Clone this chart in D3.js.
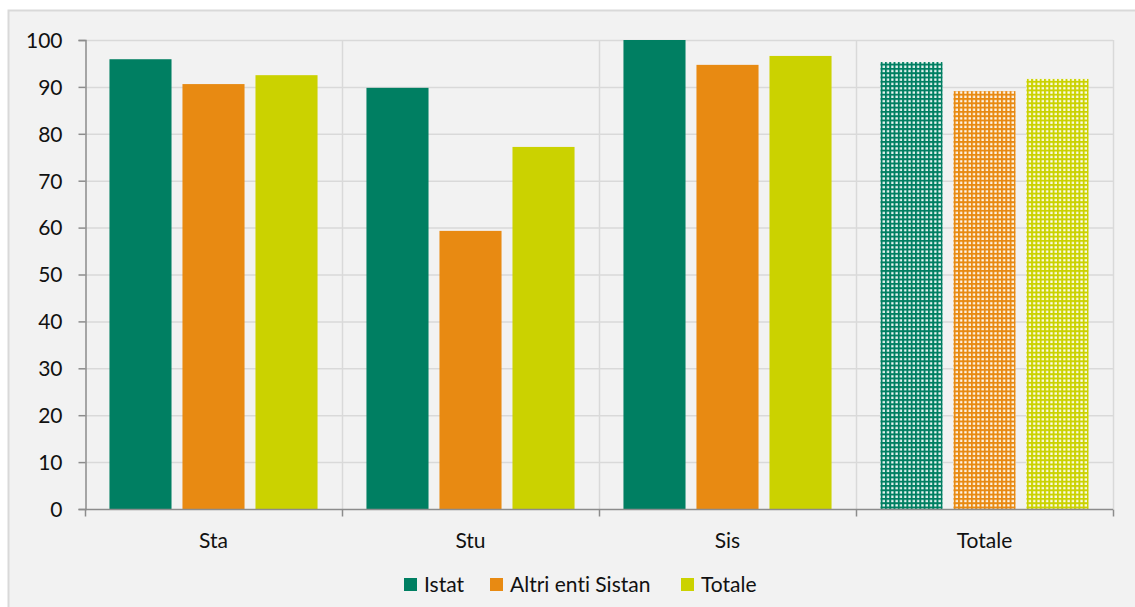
<!DOCTYPE html>
<html>
<head>
<meta charset="utf-8">
<script src="https://cdn.jsdelivr.net/npm/d3@7"></script>
<style>
  html, body { margin: 0; padding: 0; background: #ffffff; }
  svg { display: block; }
  text { font-family: Lato, "Open Sans", sans-serif; fill: #111111; font-variant-ligatures: none; font-feature-settings: "liga" 0; }
</style>
</head>
<body>
<svg id="chart" width="1135" height="607"></svg>
<script>
// Categories and series
const categories = ["Sta", "Stu", "Sis", "Totale"];
const seriesNames = ["Istat", "Altri enti Sistan", "Totale"];
const istat = [95.9, 89.8, 100.0, 95.3];
const altriEnti = [90.6, 59.3, 94.7, 89.1];
const totale = [92.5, 77.2, 96.6, 91.7];
const yTicks = [0, 10, 20, 30, 40, 50, 60, 70, 80, 90, 100];

const colors = ["#007f62", "#e88a12", "#cbd200"];
const seriesValues = [istat, altriEnti, totale];

const svg = d3.select("#chart");
const W = 1135, H = 607;
const FS = "21px";

// Outer panel
svg.append("rect")
  .attr("x", 8.5).attr("y", 10.5)
  .attr("width", W).attr("height", H)
  .attr("fill", "#f2f2f2")
  .attr("stroke", "#d9d9d9").attr("stroke-width", 2);

const plot = { left: 85, right: 1113, top: 40, bottom: 509 };

const x = d3.scaleBand().domain(categories).range([plot.left, plot.right]);
const xInner = d3.scaleBand().domain(d3.range(3))
  .range([0, x.bandwidth()]).paddingInner(0.15).paddingOuter(0.335);
const y = d3.scaleLinear().domain([0, 100]).range([plot.bottom, plot.top]);

// Grid-patterned fills for the overall group
const defs = svg.append("defs");
colors.forEach((c, i) => {
  const p = defs.append("pattern")
    .attr("id", "grid" + i)
    .attr("patternUnits", "userSpaceOnUse")
    .attr("width", 4.3).attr("height", 4.3);
  p.append("rect").attr("width", 4.3).attr("height", 4.3).attr("fill", c);
  p.append("rect").attr("x", 1.1).attr("y", 1.1).attr("width", 2.3).attr("height", 2.3)
    .attr("fill", "#ffffff").attr("opacity", 0.95);
});

// Horizontal gridlines
svg.append("g").selectAll("line").data(yTicks.filter(d => d > 0)).join("line")
  .attr("x1", plot.left).attr("x2", plot.right)
  .attr("y1", d => y(d) + 0.5).attr("y2", d => y(d) + 0.5)
  .attr("stroke", "#d9d9d9").attr("stroke-width", 1.5);

// Vertical separators between categories
const bounds = categories.map(c => x(c) + x.bandwidth());
svg.append("g").selectAll("line").data(bounds).join("line")
  .attr("x1", d => d + 0.5).attr("x2", d => d + 0.5)
  .attr("y1", plot.top).attr("y2", plot.bottom)
  .attr("stroke", "#d9d9d9").attr("stroke-width", 1.5);

// Bars
categories.forEach((cat, ci) => {
  seriesValues.forEach((vals, si) => {
    svg.append("rect")
      .attr("x", x(cat) + xInner(si))
      .attr("y", y(vals[ci]))
      .attr("width", xInner.bandwidth())
      .attr("height", y(0) - y(vals[ci]))
      .attr("fill", cat === "Totale" ? `url(#grid${si})` : colors[si]);
  });
});

// Y axis
const yAxis = svg.append("g")
  .attr("transform", `translate(${plot.left + 0.5},0)`)
  .call(d3.axisLeft(y).tickValues(yTicks).tickSize(7).tickPadding(16));
yAxis.select(".domain").attr("stroke", "#8c8c8c").attr("stroke-width", 1.5);
yAxis.selectAll(".tick line").attr("stroke", "#8c8c8c").attr("stroke-width", 1.5);
yAxis.selectAll(".tick text")
  .style("font-size", FS).attr("fill", "#111111").attr("dy", "0.35em");

// X axis
const xAxisG = svg.append("g").attr("transform", `translate(0,${plot.bottom + 0.5})`);
xAxisG.append("line")
  .attr("x1", plot.left).attr("x2", plot.right)
  .attr("stroke", "#8c8c8c").attr("stroke-width", 1.5);
xAxisG.selectAll("line.tk").data([plot.left].concat(bounds)).join("line")
  .attr("class", "tk")
  .attr("x1", d => d + 0.5).attr("x2", d => d + 0.5)
  .attr("y1", 0).attr("y2", 7)
  .attr("stroke", "#8c8c8c").attr("stroke-width", 1.5);
xAxisG.selectAll("text").data(categories).join("text")
  .attr("x", d => x(d) + x.bandwidth() / 2)
  .attr("y", 38)
  .attr("text-anchor", "middle")
  .style("font-size", FS)
  .text(d => d);

// Legend
const legendItems = [
  { name: seriesNames[0], color: colors[0], x: 404 },
  { name: seriesNames[1], color: colors[1], x: 490 },
  { name: seriesNames[2], color: colors[2], x: 681 }
];
const lg = svg.append("g");
legendItems.forEach(it => {
  lg.append("rect").attr("x", it.x).attr("y", 578).attr("width", 13).attr("height", 13).attr("fill", it.color);
  lg.append("text").attr("x", it.x + 20).attr("y", 584.5).attr("dy", "0.35em")
    .style("font-size", FS).text(it.name);
});
</script>
</body>
</html>
